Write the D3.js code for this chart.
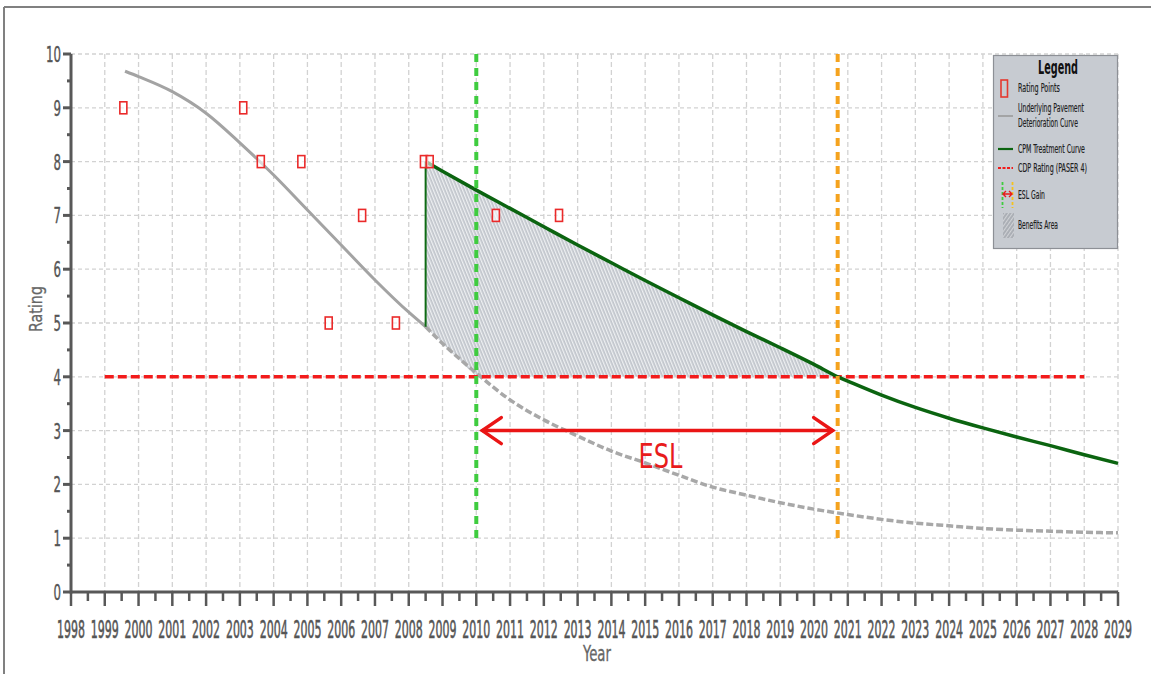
<!DOCTYPE html>
<html><head><meta charset="utf-8">
<script src="https://cdn.jsdelivr.net/npm/d3@7"></script>
<style>
html,body{margin:0;padding:0;background:#fff;}
svg{display:block;}
text{font-family:"Liberation Sans Narrow","Arial Narrow","DejaVu Sans Condensed",sans-serif;}
</style></head>
<body>
<svg id="chart" width="1151" height="674"></svg>
<script>
// ---- data ----
const xTickYears = d3.range(1998, 2030);
const yTickValues = [0,1,2,3,4,5,6,7,8,9,10];

const ratingYears = [1999.55, 2003.1, 2003.62, 2004.82, 2005.63, 2006.62, 2007.62, 2008.45, 2008.62, 2010.58, 2012.45];
const ratingValues = [9, 9, 8, 8, 5, 7, 5, 8, 8, 7, 7];

const underlyingYears = [1999.6, 2000, 2001, 2002, 2003, 2004, 2005, 2006, 2007, 2008, 2008.5, 2009, 2010, 2011, 2012, 2013, 2014, 2015, 2016, 2017, 2018, 2019, 2020, 2021, 2022, 2023, 2024, 2025, 2026, 2027, 2028, 2029];
const underlyingValues = [9.68, 9.58, 9.3, 8.9, 8.35, 7.75, 7.1, 6.45, 5.8, 5.2, 4.93, 4.62, 4.07, 3.57, 3.2, 2.9, 2.62, 2.4, 2.17, 1.95, 1.8, 1.66, 1.54, 1.44, 1.35, 1.28, 1.23, 1.18, 1.15, 1.13, 1.11, 1.10];

const cpmYears = [2008.5, 2009, 2010, 2011, 2012, 2013, 2014, 2015, 2016, 2017, 2018, 2019, 2020, 2020.7, 2021, 2022, 2023, 2024, 2025, 2026, 2027, 2028, 2029];
const cpmValues = [8.0, 7.82, 7.47, 7.13, 6.79, 6.45, 6.12, 5.79, 5.47, 5.15, 4.84, 4.54, 4.23, 4.0, 3.92, 3.66, 3.43, 3.23, 3.05, 2.88, 2.72, 2.55, 2.39];

const treatmentYear = 2008.5;
const cdpRating = 4;
const cdpRange = [1999, 2028];
const eslStartYear = 2010;
const eslEndYear = 2020.7;
const eslArrowRating = 3;
const markerLineRange = [1, 10];

const legendLabels = ["Rating Points", ["Underlying Pavement", "Deterioration Curve"], "CPM Treatment Curve", "CDP Rating (PASER 4)", "ESL Gain", "Benefits Area"];

// ---- setup ----
const svg = d3.select("#chart");
const x = d3.scaleLinear().domain([1998, 2029]).range([71, 1118]);
const y = d3.scaleLinear().domain([0, 10]).range([592, 54]);

// place a text at (px,py) and squeeze it horizontally to a given width
function fitText(parent, str, px, py, size, width, opts) {
  opts = opts || {};
  const t = parent.append("text").attr("x",0).attr("y",0)
    .attr("font-size",size).attr("text-anchor",opts.anchor || "start")
    .attr("fill",opts.fill || "#333").text(str);
  if (opts.weight) t.attr("font-weight",opts.weight);
  if (opts.stroke) t.attr("stroke",opts.fill).attr("stroke-width",opts.stroke);
  const nat = t.node().getComputedTextLength() || width;
  const s = width / nat;
  t.attr("transform",`translate(${px},${py}) ${opts.rotate ? "rotate("+opts.rotate+") " : ""}scale(${s},1)`);
  return t;
}

// frame
svg.append("line").attr("x1",4).attr("x2",1151).attr("y1",7).attr("y2",7).attr("stroke","#808080").attr("stroke-width",2);
svg.append("line").attr("x1",4).attr("x2",4).attr("y1",7).attr("y2",674).attr("stroke","#808080").attr("stroke-width",2);

// hatch pattern
const defs = svg.append("defs");
const pat = defs.append("pattern").attr("id","hatch").attr("patternUnits","userSpaceOnUse")
  .attr("width",3).attr("height",3).attr("patternTransform","rotate(-22)");
pat.append("rect").attr("width",3).attr("height",3).attr("fill","#c0c4cb");
pat.append("line").attr("x1",0.7).attr("x2",0.7).attr("y1",0).attr("y2",3).attr("stroke","#f7f8f9").attr("stroke-width",1.1);
const pat2 = defs.append("pattern").attr("id","hatchL").attr("patternUnits","userSpaceOnUse")
  .attr("width",3).attr("height",3).attr("patternTransform","rotate(35)");
pat2.append("rect").attr("width",3).attr("height",3).attr("fill","#a9adb4");
pat2.append("line").attr("x1",0.6).attr("x2",0.6).attr("y1",0).attr("y2",3).attr("stroke","#d8dade").attr("stroke-width",0.9);

// grid
const grid = svg.append("g");
grid.selectAll(".vg").data(xTickYears.filter(d => d > 1998)).join("line")
  .attr("x1", d => x(d)).attr("x2", d => x(d)).attr("y1", y(10)).attr("y2", y(0))
  .attr("stroke","#d2d2d2").attr("stroke-width",1.3).attr("stroke-dasharray","5,3");
grid.selectAll(".hg").data(yTickValues.filter(d => d > 0)).join("line")
  .attr("x1", x(1998)).attr("x2", x(2029)).attr("y1", d => y(d)).attr("y2", d => y(d))
  .attr("stroke","#d2d2d2").attr("stroke-width",1.3).attr("stroke-dasharray","4,3");

// benefits area: top = CPM curve up to the CDP crossing, bottom = max(underlying, CDP)
const benefitTop = cpmYears.map((yr,i)=>[yr,cpmValues[i]]).filter(p => p[0] <= eslEndYear);
const benefitBottom = [[eslEndYear, cdpRating], [eslStartYear, cdpRating]]
  .concat(underlyingYears.map((yr,i)=>[yr,underlyingValues[i]]).filter(p => p[0] >= treatmentYear && p[0] < eslStartYear).reverse());
const poly = benefitTop.concat(benefitBottom);
svg.append("path").attr("d", d3.line().x(d=>x(d[0])).y(d=>y(d[1]))(poly) + "Z")
  .attr("fill","url(#hatch)").attr("stroke","none");

// underlying curve
const under = underlyingYears.map((yr,i)=>[yr,underlyingValues[i]]);
const smooth = d3.line().x(d=>x(d[0])).y(d=>y(d[1])).curve(d3.curveMonotoneX);
svg.append("path").attr("d", smooth(under.filter(p=>p[0]<=treatmentYear)))
  .attr("fill","none").attr("stroke","#a3a3a3").attr("stroke-width",3);
svg.append("path").attr("d", smooth(under.filter(p=>p[0]>=treatmentYear)))
  .attr("fill","none").attr("stroke","#a8a8a8").attr("stroke-width",3.5).attr("stroke-dasharray","7,3");

// CDP rating line
svg.append("line").attr("x1", x(cdpRange[0])).attr("x2", x(cdpRange[1])).attr("y1", y(cdpRating)).attr("y2", y(cdpRating))
  .attr("stroke","#f21b1b").attr("stroke-width",3.5).attr("stroke-dasharray","9,4");

// CPM treatment curve
const underAtTreat = underlyingValues[underlyingYears.indexOf(treatmentYear)];
svg.append("line").attr("x1", x(treatmentYear)).attr("x2", x(treatmentYear)).attr("y1", y(underAtTreat)).attr("y2", y(cpmValues[0]))
  .attr("stroke","#0e6b14").attr("stroke-width",2);
svg.append("path").attr("d", smooth(cpmYears.map((yr,i)=>[yr,cpmValues[i]])))
  .attr("fill","none").attr("stroke","#0b6410").attr("stroke-width",3.5);

// ESL markers
svg.append("line").attr("x1", x(eslStartYear)).attr("x2", x(eslStartYear)).attr("y1", y(markerLineRange[1])).attr("y2", y(markerLineRange[0]))
  .attr("stroke","#3fcc3f").attr("stroke-width",4).attr("stroke-dasharray","8,6");
svg.append("line").attr("x1", x(eslEndYear)).attr("x2", x(eslEndYear)).attr("y1", y(markerLineRange[1])).attr("y2", y(markerLineRange[0]) + 3)
  .attr("stroke","#f5a31e").attr("stroke-width",4).attr("stroke-dasharray","8,6");

// rating points
svg.selectAll(".pt").data(ratingYears.map((yr,i)=>[yr,ratingValues[i]])).join("rect")
  .attr("x", d => x(d[0]) - 3.5).attr("y", d => y(d[1]) - 6).attr("width",7).attr("height",12)
  .attr("fill","#fff").attr("fill-opacity",0.6).attr("stroke","#ea2a2a").attr("stroke-width",1.6);

// ESL arrow
const ax1 = x(eslStartYear) + 6, ax2 = x(eslEndYear) - 5, ay = y(eslArrowRating);
const arrowG = svg.append("g").attr("stroke","#ea1515").attr("stroke-width",3.5).attr("fill","none").attr("stroke-linecap","round");
arrowG.append("line").attr("x1",ax1).attr("x2",ax2).attr("y1",ay).attr("y2",ay);
arrowG.append("path").attr("d",`M${ax1+19},${ay-13} L${ax1},${ay} L${ax1+19},${ay+13}`);
arrowG.append("path").attr("d",`M${ax2-19},${ay-13} L${ax2},${ay} L${ax2-19},${ay+13}`);
fitText(svg, "ESL", (ax1+ax2)/2 + 3, ay + 37, 33, 44, {anchor:"middle", fill:"#e81c1c"});

// axes
const axisCol = "#585858";
svg.append("line").attr("x1",x(1998)).attr("x2",x(2029)).attr("y1",y(0)).attr("y2",y(0)).attr("stroke",axisCol).attr("stroke-width",3);
svg.append("line").attr("x1",x(1998)).attr("x2",x(1998)).attr("y1",y(0)+1.5).attr("y2",y(10)).attr("stroke",axisCol).attr("stroke-width",3);
// x ticks
svg.selectAll(".xt").data(xTickYears).join("line")
  .attr("x1", d=>x(d)).attr("x2", d=>x(d)).attr("y1", y(0)).attr("y2", y(0)+14).attr("stroke",axisCol).attr("stroke-width",2.5);
svg.selectAll(".xtm").data(xTickYears.slice(0,-1).map(d=>d+0.5)).join("line")
  .attr("x1", d=>x(d)).attr("x2", d=>x(d)).attr("y1", y(0)).attr("y2", y(0)+9).attr("stroke",axisCol).attr("stroke-width",2.5);
const xLab = svg.append("g");
xTickYears.forEach(d => fitText(xLab, String(d), x(d), 638, 25, 28, {anchor:"middle", fill:"#555", stroke:0.6}));
// y ticks
svg.selectAll(".yt").data(yTickValues).join("line")
  .attr("x1", x(1998)-8).attr("x2", x(1998)).attr("y1", d=>y(d)).attr("y2", d=>y(d)).attr("stroke",axisCol).attr("stroke-width",3);
svg.selectAll(".ytm").data(yTickValues.slice(0,-1).map(d=>d+0.5)).join("line")
  .attr("x1", x(1998)-4).attr("x2", x(1998)).attr("y1", d=>y(d)).attr("y2", d=>y(d)).attr("stroke",axisCol).attr("stroke-width",3);
const yLab = svg.append("g");
yTickValues.forEach(d => fitText(yLab, String(d), 61, y(d)+8, 22, String(d).length*7.5, {anchor:"end", fill:"#555", stroke:0.4}));

// axis titles
fitText(svg, "Year", 597, 661, 21, 28, {anchor:"middle", fill:"#666", stroke:0.3});
fitText(svg, "Rating", 42, 309, 17, 46, {anchor:"middle", fill:"#666", rotate:-90, stroke:0.3});

// legend
const lg = svg.append("g");
lg.append("rect").attr("x",993.5).attr("y",55.5).attr("width",124).attr("height",193).attr("fill","#c7cbd1").attr("stroke","#8d9096").attr("stroke-width",1.2);
fitText(lg, "Legend", 1058, 74, 20, 40, {anchor:"middle", fill:"#111", weight:"bold"});
const tx = 1018;
function ltext(t, yy, w){ fitText(lg, t, tx, yy, 12, w, {fill:"#1e1e1e", stroke:0.2}); }
// rating points icon
lg.append("rect").attr("x",1001).attr("y",80).attr("width",6.5).attr("height",17).attr("fill","none").attr("stroke","#e5392f").attr("stroke-width",1.6);
ltext(legendLabels[0], 92, 42);
// underlying
lg.append("line").attr("x1",998).attr("x2",1013).attr("y1",116).attr("y2",116).attr("stroke","#9a9a9a").attr("stroke-width",1.6);
ltext(legendLabels[1][0], 112, 66);
ltext(legendLabels[1][1], 127, 60);
// CPM
lg.append("line").attr("x1",998).attr("x2",1013).attr("y1",149).attr("y2",149).attr("stroke","#0b6410").attr("stroke-width",2.2);
ltext(legendLabels[2], 153, 67);
// CDP
lg.append("line").attr("x1",998).attr("x2",1013).attr("y1",168).attr("y2",168).attr("stroke","#f21b1b").attr("stroke-width",1.8).attr("stroke-dasharray","3,1.5");
ltext(legendLabels[3], 172, 69);
// ESL gain icon
lg.append("line").attr("x1",1002.5).attr("x2",1002.5).attr("y1",182).attr("y2",208).attr("stroke","#3fcc3f").attr("stroke-width",1.8).attr("stroke-dasharray","3,2");
lg.append("line").attr("x1",1012.5).attr("x2",1012.5).attr("y1",182).attr("y2",208).attr("stroke","#f5c21e").attr("stroke-width",1.8).attr("stroke-dasharray","3,2");
lg.append("path").attr("d","M1003,194 L1012,194 M1006,191 L1003,194 L1006,197 M1009,191 L1012,194 L1009,197").attr("stroke","#e81c1c").attr("stroke-width",1.4).attr("fill","none");
ltext(legendLabels[4], 199, 27);
// benefits area icon
lg.append("rect").attr("x",1003).attr("y",213).attr("width",11).attr("height",25).attr("fill","url(#hatchL)");
ltext(legendLabels[5], 229, 40);
</script>
</body></html>
